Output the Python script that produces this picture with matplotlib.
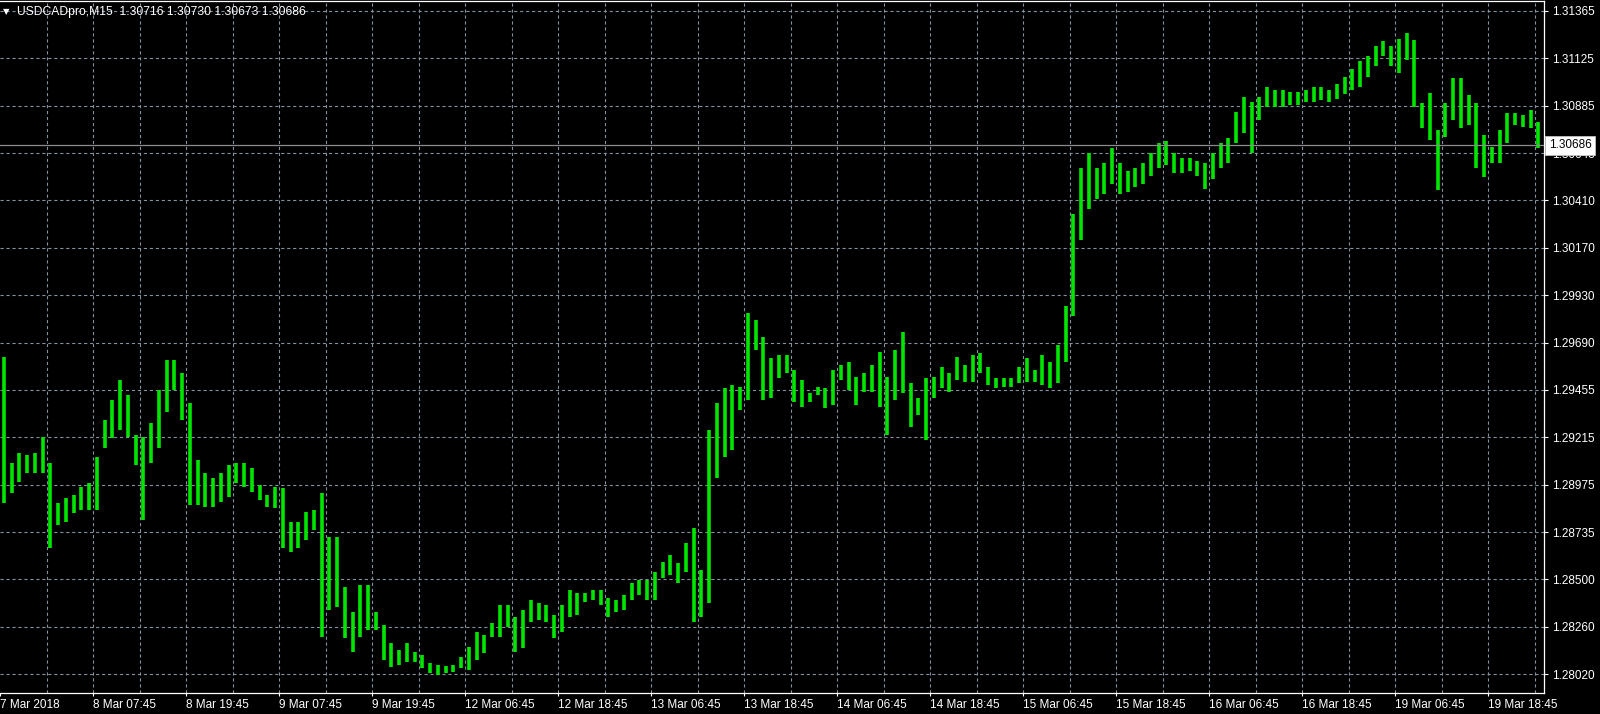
import matplotlib.pyplot as plt
import matplotlib.transforms as mtransforms
import numpy as np

# hourly high / low (USDCADpro, 7 Mar - 19 Mar 2018)
highs = [
    1.29619, 1.29085, 1.29135, 1.29125, 1.29135, 1.29216, 1.29085, 1.28883, 1.28909, 1.28924,
    1.28964, 1.28984, 1.29115, 1.29302, 1.29403, 1.29503, 1.29428, 1.29226, 1.29216, 1.29287,
    1.29453, 1.29604, 1.29604, 1.29539, 1.29387, 1.29100, 1.29035, 1.29009, 1.29035, 1.29075,
    1.29085, 1.29085, 1.29060, 1.28974, 1.28924, 1.28964, 1.28959, 1.28788, 1.28788, 1.28838,
    1.28848, 1.28934, 1.28712, 1.28712, 1.28460, 1.28334, 1.28470, 1.28470, 1.28334, 1.28268,
    1.28178, 1.28142, 1.28178, 1.28132, 1.28117, 1.28077, 1.28067, 1.28062, 1.28067, 1.28107,
    1.28158, 1.28233, 1.28218, 1.28279, 1.28369, 1.28369, 1.28309, 1.28344, 1.28394, 1.28379,
    1.28369, 1.28319, 1.28369, 1.28445, 1.28430, 1.28430, 1.28445, 1.28445, 1.28405, 1.28394,
    1.28420, 1.28480, 1.28495, 1.28495, 1.28536, 1.28586, 1.28621, 1.28581, 1.28682, 1.28757,
    1.28546, 1.29251, 1.29387, 1.29463, 1.29478, 1.29468, 1.29841, 1.29806, 1.29720, 1.29614,
    1.29629, 1.29629, 1.29554, 1.29503, 1.29438, 1.29468, 1.29463, 1.29554, 1.29579, 1.29594,
    1.29518, 1.29539, 1.29579, 1.29644, 1.29518, 1.29654, 1.29745, 1.29488, 1.29413, 1.29513,
    1.29518, 1.29569, 1.29539, 1.29619, 1.29579, 1.29629, 1.29639, 1.29569, 1.29513, 1.29513,
    1.29513, 1.29569, 1.29614, 1.29554, 1.29629, 1.29594, 1.29680, 1.29876, 1.30340, 1.30572,
    1.30647, 1.30572, 1.30597, 1.30673, 1.30597, 1.30557, 1.30572, 1.30597, 1.30647, 1.30698,
    1.30708, 1.30647, 1.30622, 1.30622, 1.30607, 1.30597, 1.30647, 1.30698, 1.30723, 1.30854,
    1.30930, 1.30904, 1.30930, 1.30980, 1.30965, 1.30965, 1.30955, 1.30955, 1.30965, 1.30980,
    1.30980, 1.30965, 1.30995, 1.31030, 1.31071, 1.31111, 1.31136, 1.31187, 1.31212, 1.31187,
    1.31222, 1.31252, 1.31217, 1.30899, 1.30950, 1.30763, 1.30899, 1.31025, 1.31025, 1.30940,
    1.30899, 1.30738, 1.30678, 1.30763, 1.30849, 1.30849, 1.30839, 1.30864, 1.30804,
]
lows = [
    1.28883, 1.28934, 1.28989, 1.29035, 1.29035, 1.29035, 1.28657, 1.28772, 1.28788, 1.28833,
    1.28848, 1.28848, 1.28848, 1.29161, 1.29211, 1.29251, 1.29216, 1.29075, 1.28798, 1.29085,
    1.29161, 1.29342, 1.29453, 1.29302, 1.28873, 1.28873, 1.28863, 1.28863, 1.28888, 1.28914,
    1.28984, 1.28964, 1.28939, 1.28898, 1.28863, 1.28858, 1.28657, 1.28636, 1.28657, 1.28697,
    1.28747, 1.28208, 1.28344, 1.28359, 1.28203, 1.28132, 1.28208, 1.28243, 1.28243, 1.28092,
    1.28057, 1.28067, 1.28082, 1.28082, 1.28052, 1.28027, 1.28016, 1.28027, 1.28032, 1.28052,
    1.28042, 1.28092, 1.28127, 1.28208, 1.28208, 1.28258, 1.28132, 1.28153, 1.28284, 1.28294,
    1.28284, 1.28203, 1.28233, 1.28309, 1.28319, 1.28384, 1.28394, 1.28369, 1.28309, 1.28334,
    1.28344, 1.28394, 1.28420, 1.28394, 1.28394, 1.28505, 1.28520, 1.28480, 1.28536, 1.28284,
    1.28309, 1.28379, 1.29009, 1.29115, 1.29151, 1.29352, 1.29403, 1.29654, 1.29403, 1.29413,
    1.29513, 1.29539, 1.29392, 1.29367, 1.29392, 1.29428, 1.29362, 1.29377, 1.29503, 1.29453,
    1.29377, 1.29443, 1.29443, 1.29367, 1.29226, 1.29403, 1.29438, 1.29266, 1.29327, 1.29201,
    1.29413, 1.29463, 1.29443, 1.29503, 1.29493, 1.29493, 1.29539, 1.29478, 1.29463, 1.29468,
    1.29468, 1.29488, 1.29493, 1.29493, 1.29478, 1.29463, 1.29488, 1.29594, 1.29826, 1.30209,
    1.30365, 1.30416, 1.30441, 1.30491, 1.30441, 1.30451, 1.30476, 1.30491, 1.30531, 1.30572,
    1.30587, 1.30547, 1.30547, 1.30557, 1.30531, 1.30466, 1.30516, 1.30572, 1.30597, 1.30698,
    1.30748, 1.30647, 1.30814, 1.30879, 1.30879, 1.30879, 1.30889, 1.30889, 1.30904, 1.30904,
    1.30915, 1.30904, 1.30920, 1.30945, 1.30965, 1.30980, 1.31030, 1.31086, 1.31136, 1.31086,
    1.31051, 1.31116, 1.30879, 1.30773, 1.30713, 1.30461, 1.30728, 1.30814, 1.30773, 1.30789,
    1.30572, 1.30526, 1.30597, 1.30597, 1.30698, 1.30789, 1.30778, 1.30773, 1.30673,
]

x_labels = ["7 Mar 2018", "8 Mar 07:45", "8 Mar 19:45", "9 Mar 07:45", "9 Mar 19:45",
            "12 Mar 06:45", "12 Mar 18:45", "13 Mar 06:45", "13 Mar 18:45", "14 Mar 06:45",
            "14 Mar 18:45", "15 Mar 06:45", "15 Mar 18:45", "16 Mar 06:45", "16 Mar 18:45",
            "19 Mar 06:45", "19 Mar 18:45"]
y_ticks = [1.31365, 1.31125, 1.30885, 1.30645, 1.30410, 1.30170, 1.29930, 1.29690,
           1.29455, 1.29215, 1.28975, 1.28735, 1.28500, 1.28260, 1.28020]
last_price = 1.30686
header = "USDCADpro,M15  1.30716 1.30730 1.30673 1.30686"

plt.rcParams['font.family'] = ['Liberation Sans', 'DejaVu Sans']
plt.rcParams['lines.scale_dashes'] = False

bar_color = '#00e600'
grid_color = '#8290a0'
dash = (0, (2.3, 2.0))

fig = plt.figure(figsize=(16, 7.14), dpi=100, facecolor='black')
ax = fig.add_axes([0, 21 / 714, 1544 / 1600, 692 / 714])
ax.set_facecolor('black')

# grid like the terminal: one line per price level, one every 6 hours
for t in y_ticks:
    ax.axhline(t, color=grid_color, lw=0.8, ls=dash, zorder=1)
for h in range(6, len(highs) + 1, 6):
    ax.axvline(h, color=grid_color, lw=0.8, ls=dash, zorder=1)

hours = np.arange(len(highs)) + 0.5
ax.vlines(hours, lows, highs, color=bar_color, lw=2.6, zorder=3)

# bid line
ax.axhline(last_price, color='#8c8c8c', lw=0.9, zorder=4)

ax.set_xlim(0, 1544 / 7.75)
ax.set_ylim(1.27926, 1.31413)

for side in ['top', 'right', 'bottom']:
    ax.spines[side].set_color('white')
    ax.spines[side].set_linewidth(0.9)
ax.spines['left'].set_visible(False)

ax.yaxis.tick_right()
ax.set_yticks(y_ticks)
ax.set_yticklabels(['%.5f' % t for t in y_ticks])
ax.tick_params(axis='y', colors='white', labelsize=8.5, length=3, width=0.8, pad=2.5)

ax.set_xticks(range(0, 12 * len(x_labels), 12))
ax.set_xticklabels(x_labels, ha='left')
ax.tick_params(axis='x', colors='white', labelsize=8.5, length=2.5, width=0.8, pad=2)

# price label on the scale
trans = mtransforms.blended_transform_factory(ax.transAxes, ax.transData)
ax.text(1.0 + 5 / 1544, last_price, '%.5f' % last_price, transform=trans,
        ha='left', va='center', fontsize=8.5, color='black', zorder=10, clip_on=False,
        bbox=dict(boxstyle='square,pad=0.3', fc='white', ec='#c0c0c0', lw=0.6))

# header
fig.text(3 / 1600, 1 - 11.5 / 714, u'\u25bc', color='white', fontsize=6,
         family='DejaVu Sans', va='center', ha='left')
fig.text(17 / 1600, 1 - 11.5 / 714, header, color='white', fontsize=8.7,
         va='center', ha='left')

fig.savefig('out.png', dpi=100, facecolor='black')
